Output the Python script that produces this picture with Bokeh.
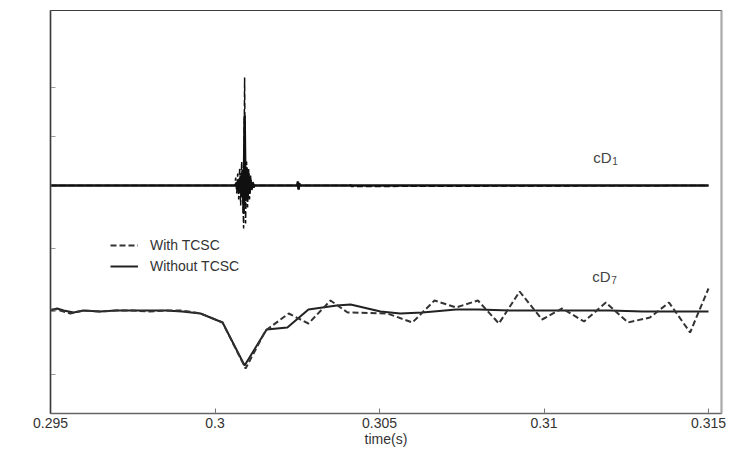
from bokeh.plotting import figure
from bokeh.models import Range1d, FixedTicker, LinearAxis, Legend, LegendItem, NumeralTickFormatter
from bokeh.core.properties import value
from bokeh.embed import file_html
from bokeh.resources import INLINE

# ---------------- data ----------------
x_ticks = [0.295, 0.300, 0.305, 0.310, 0.315]
y_ticks = [39, 102, 165, 228, 277, 326]

# cD1 (upper trace), without TCSC (solid)
t1_wo = [0.2950, 0.30063, 0.30066, 0.30069, 0.30072, 0.30075, 0.30078, 0.30081, 0.30084,
         0.30087, 0.30090, 0.30093, 0.30096, 0.30099, 0.30102, 0.30105, 0.30108, 0.30111,
         0.30114, 0.30117, 0.30120, 0.30250, 0.30252, 0.30254, 0.30256, 0.30258, 0.3150]
y1_wo = [228, 228, 231, 224, 234, 220, 238, 216, 244,
         200, 298, 212, 246, 214, 240, 220, 234, 224,
         231, 226, 228, 228, 232, 224, 230, 228, 228]

# cD1, with TCSC (dashed)
t1_w = [0.2950, 0.30060, 0.30063, 0.30066, 0.30069, 0.30072, 0.30075, 0.30078, 0.30081,
        0.30084, 0.30087, 0.30090, 0.30093, 0.30096, 0.30099, 0.30102, 0.30105, 0.30108,
        0.30111, 0.30114, 0.30120, 0.30250, 0.30252, 0.30254, 0.30256, 0.30258, 0.30410,
        0.30412, 0.30414, 0.3150]
y1_w = [228, 228, 236, 220, 240, 214, 246, 208, 252,
        230, 185, 336, 190, 252, 206, 246, 214, 238,
        222, 232, 228, 228, 232, 224, 230, 228, 228,
        229, 227, 228]

# cD7 (lower trace), without TCSC (solid)
t7_wo = [0.2950, 0.2952, 0.2954, 0.2957, 0.2960, 0.2965, 0.2970, 0.2975, 0.2980, 0.2985,
         0.2990, 0.29956, 0.30023, 0.30090, 0.30157, 0.30220, 0.30284, 0.30370, 0.30412,
         0.30503, 0.30563, 0.30630, 0.30733, 0.3080, 0.3090, 0.3100, 0.3110, 0.3120,
         0.3130, 0.3140, 0.3150]
y7_wo = [103, 105, 103, 101, 103, 102, 103, 103, 103, 103,
         102, 100, 91, 48, 84, 86, 104, 108, 109,
         102, 100, 101, 104, 104, 103, 103, 103, 103,
         102, 102, 102]

# cD7, with TCSC (dashed)
t7_w = [0.2950, 0.2952, 0.2956, 0.2960, 0.2965, 0.2970, 0.2975, 0.2980, 0.2985, 0.2990,
        0.29956, 0.30023, 0.30093, 0.30154, 0.30224, 0.30284, 0.30351, 0.30403, 0.30524,
        0.30600, 0.30667, 0.30733, 0.30799, 0.30863, 0.30926, 0.30994, 0.31055, 0.31122,
        0.31188, 0.31255, 0.31322, 0.31380, 0.31444, 0.31500]
y7_w = [104, 104, 100, 103, 102, 103, 103, 102, 103, 103,
        100, 91, 45, 83, 100, 90, 113, 101, 100,
        91, 113, 106, 113, 90, 122, 94, 105, 92,
        111, 91, 96, 111, 81, 125]

series_names = ["With TCSC", "Without TCSC"]
trace_labels = ["cD", "cD"]
trace_subs = ["1", "7"]
label_x = [0.31150, 0.31147]
label_y = [256, 137]

FONT = "Liberation Sans"
X0, X1 = 0.295, 0.315395

p = figure(width=731, height=449,
           x_range=Range1d(X0, X1), y_range=Range1d(0, 403),
           output_backend="svg", toolbar_location=None,
           min_border_left=50, min_border_right=10,
           min_border_top=10, min_border_bottom=36)
# frame outline gives the dark top edge; the axes drawn over it colour the other edges
p.outline_line_color = "#3c3c3c"
p.outline_line_width = 1.2
p.grid.visible = False
p.background_fill_color = "white"
p.border_fill_color = "white"

# x axis
p.xaxis.ticker = FixedTicker(ticks=x_ticks)
p.xaxis.formatter = NumeralTickFormatter(format="0.[000]")
p.xaxis.major_tick_in = 5
p.xaxis.major_tick_out = 0
p.xaxis.minor_tick_line_color = None
p.xaxis.axis_line_color = "#666666"
p.xaxis.axis_line_width = 1.5
p.xaxis.major_tick_line_color = "#777777"
p.xaxis.major_label_text_font = FONT
p.xaxis.major_label_text_font_size = "14px"
p.xaxis.major_label_text_color = "#333333"
p.xaxis.major_label_standoff = 4
p.xaxis.axis_label = "time(s)"
p.xaxis.axis_label_text_font = FONT
p.xaxis.axis_label_text_font_size = "14px"
p.xaxis.axis_label_text_font_style = "normal"
p.xaxis.axis_label_text_color = "#333333"
p.xaxis.axis_label_standoff = 0

# y axis: line only (no ticks from its ticker, but an outward tick extent that
# pushes the outer box line out); ticks drawn as short inward rays, no labels
p.yaxis.ticker = FixedTicker(ticks=[])
p.yaxis.minor_tick_line_color = None
p.yaxis.major_tick_line_color = "#999999"
p.yaxis.major_tick_in = 0
p.yaxis.major_tick_out = 39
p.yaxis.axis_line_color = "#888888"
p.yaxis.axis_line_width = 1.6
p.ray(x=[X0] * len(y_ticks), y=y_ticks, length=5, length_units="screen", angle=0,
      line_color="#999999", line_width=1)

# outer box left edge (scanned figure border)
outer_left = LinearAxis(ticker=FixedTicker(ticks=[]), axis_line_color="#3c3c3c", axis_line_width=1.2,
                        major_tick_line_color=None, minor_tick_line_color=None)
p.add_layout(outer_left, "left")

# right frame line as an empty axis (grey, covers the outline there)
ra = LinearAxis(ticker=FixedTicker(ticks=[]), axis_line_color="#aaaaaa", axis_line_width=2,
                major_tick_line_color=None, minor_tick_line_color=None)
p.add_layout(ra, "right")

# traces
p.line(t1_wo, y1_wo, line_color="#111111", line_width=2.5)
p.line(t1_w, y1_w, line_color="#111111", line_width=1.5, line_dash="6 3")
r_wo = p.line(t7_wo, y7_wo, line_color="#222222", line_width=2)
r_w = p.line(t7_w, y7_w, line_color="#333333", line_width=2, line_dash="6 3")

# trace labels
p.text(x=label_x, y=label_y, text=trace_labels, text_font=value(FONT),
       text_font_size="15px", text_color="#444444", text_baseline="alphabetic")
p.text(x=label_x, y=label_y, text=trace_subs, text_font=value(FONT),
       text_font_size="10px", text_color="#444444", text_baseline="alphabetic",
       x_offset=19, y_offset=3)

legend = Legend(items=[LegendItem(label=series_names[0], renderers=[r_w]),
                       LegendItem(label=series_names[1], renderers=[r_wo])],
                location=(60, 137), padding=0, margin=0, spacing=1,
                glyph_width=28, glyph_height=20, label_height=20, label_standoff=12,
                label_text_font=FONT, label_text_font_size="14px", label_text_color="#333333",
                border_line_color=None, background_fill_alpha=0)
p.add_layout(legend)

open("out.html", "w").write(file_html(p, INLINE))
